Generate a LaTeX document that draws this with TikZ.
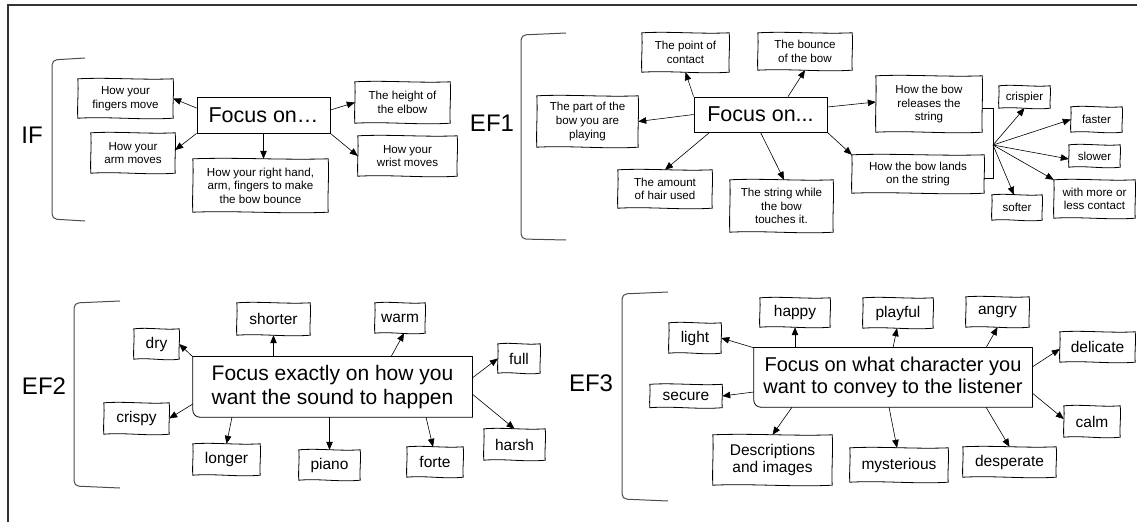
\documentclass[tikz,border=0pt]{standalone}
\usepackage{fontspec}
\setmainfont{Liberation Sans}
\usetikzlibrary{arrows.meta,calc}
\newcommand\fsz[2]{\fontsize{#1}{#2}\selectfont}
\newcommand\skb[1]{\draw[skl] (#1.north west)
 .. controls ($(#1.north west)!.33!(#1.north east)+(0,-1.6)$) and ($(#1.north west)!.67!(#1.north east)+(0,1.4)$) .. (#1.north east)
 .. controls ($(#1.north east)!.33!(#1.south east)+(1,0)$) and ($(#1.north east)!.67!(#1.south east)+(-0.8,0)$) .. (#1.south east)
 .. controls ($(#1.south east)!.33!(#1.south west)+(0,2)$) and ($(#1.south east)!.67!(#1.south west)+(0,-1.8)$) .. (#1.south west)
 .. controls ($(#1.south west)!.33!(#1.north west)+(-0.8,0)$) and ($(#1.south west)!.67!(#1.north west)+(1,0)$) .. (#1.north west) -- cycle;}
\tikzset{
 bx/.style={inner sep=0pt, align=center},
 sm/.style={bx, font=\fsz{11.6}{13.6}},
 md/.style={bx, font=\fsz{15.5}{17.5}},
 big/.style={bx, font=\fsz{21.5}{24}},
 arr/.style={-{Triangle[length=8pt,width=6.5pt]}, line width=0.6pt},
 skl/.style={line width=0.8pt},
 brk/.style={line width=1pt, black!70, rounded corners=5pt},
 lbl/.style={font=\fsz{24}{28}, inner sep=0pt},
 frm/.style={line width=0.8pt, line cap=round, line join=round},
}
\begin{document}
\begin{tikzpicture}[x=1pt,y=-1pt]
\useasboundingbox (0,0) rectangle (1137,522);
\draw[line width=1.5pt, black!80] (1137,5) -- (8,5) -- (8,522);

% brackets
\draw[brk] (85,58) -- (52,60) -- (52,219) -- (85,221);
\draw[brk] (566,33) -- (521,35) -- (521,239) -- (566,240);
\draw[brk] (120,301) -- (74,303) -- (74,486) -- (120,488);
\draw[brk] (668,292) -- (622,294) -- (622,499) -- (668,501);

% labels
\node[lbl] (lif) at (32,135) {IF};
\node[lbl] (lefa) at (492,123) {EF1};
\node[lbl] (lefb) at (44,386) {EF2};
\node[lbl] (lefc) at (591,383) {EF3};

% ---------------- IF
\node[big, draw, line width=0.8pt, minimum width=133pt, minimum height=36pt] (ifc) at (263.5,115) {Focus on…};
\node[sm, minimum width=95pt, minimum height=39pt] (iff) at (125.5,98.5) {How your\\fingers move};
\node[sm, minimum width=95pt, minimum height=41pt] (ife) at (402.5,102.5) {The height of\\the elbow};
\node[sm, minimum width=84pt, minimum height=40pt] (ifa) at (133,153) {How your\\arm moves};
\node[sm, minimum width=135pt, minimum height=53pt] (ifr) at (260.5,185.5) {How your right hand,\\arm, fingers to make\\the bow bounce};
\node[sm, minimum width=99pt, minimum height=40pt] (ifw) at (407.5,156) {How your\\wrist moves};
\draw[arr] ([yshift=7pt]ifc.west) -- (iff.east);
\draw[arr] ([yshift=5pt]ifc.east) -- (ife.west);
\draw[arr] (ifc.south west) -- ([yshift=3pt]ifa.east);
\draw[arr] (ifc.south) -- (ifc.south |- ifr.north);
\draw[arr] (ifc.south east) -- (ifw.west);

% ---------------- EF1
\node[big, draw, line width=0.8pt, minimum width=133pt, minimum height=35pt] (eac) at (760.5,114.5) {Focus on...};
\node[sm, minimum width=87pt, minimum height=39pt] (eapc) at (685.5,52.5) {The point of\\contact};
\node[sm, minimum width=94pt, minimum height=37pt] (eab) at (805,51.5) {The bounce\\of the bow};
\node[sm, minimum width=101pt, minimum height=51pt] (eap) at (587.5,121.5) {The part of the\\bow you are\\playing};
\node[sm, minimum width=106pt, minimum height=56pt] (earel) at (929,104) {How the bow\\releases the\\string};
\node[sm, minimum width=132pt, minimum height=38pt] (ealand) at (918,174) {How the bow lands\\on the string};
\node[sm, minimum width=94pt, minimum height=38pt] (eahair) at (665,189) {The amount\\of hair used};
\node[sm, minimum width=103pt, minimum height=52pt] (eastr) at (781.5,206) {The string while\\the bow\\touches it.};
\node[sm, minimum width=51pt, minimum height=22pt] (eacr) at (1024.5,97) {crispier};
\node[sm, minimum width=51pt, minimum height=25pt] (eafa) at (1096.5,119.5) {faster};
\node[sm, minimum width=51pt, minimum height=22pt] (easl) at (1094.5,156) {slower};
\node[sm, minimum width=50pt, minimum height=25pt] (easo) at (1017,207.5) {softer};
\node[sm, minimum width=81pt, minimum height=38pt] (eawm) at (1094.5,199) {with more or\\less contact};
\draw[arr] (eac.north west) -- (eapc.south);
\draw[arr] ([xshift=27.5pt]eac.north) -- (eab.south);
\draw[arr] (eac.west) -- (eap.east);
\draw[arr] ([yshift=7.5pt]eac.east) -- ([yshift=2pt]earel.west);
\draw[arr] ([xshift=16pt]eac.south west) -- (eahair.north);
\draw[arr] (eac.south) -- ([xshift=2.5pt]eastr.north);
\draw[arr] (eac.south east) -- (ealand.north west);
\coordinate (hub) at (993,145);
\draw[line width=0.6pt] ([yshift=-4pt]earel.east) -| (hub) |- ([yshift=-4pt]ealand.east);
\draw[arr] (hub) -- (eacr.south);
\draw[arr] (hub) -- (eafa.west);
\draw[arr] (hub) -- ([yshift=-3pt]easl.west);
\draw[arr] (hub) -- (eawm.north west);
\draw[arr] (hub) -- ([xshift=-3pt]easo.north);

% ---------------- EF2
\node[bx, font=\fsz{21}{23.5}, minimum width=279pt, minimum height=60pt] (ebc) at (332.5,387) {Focus exactly on how you\\want the sound to happen};
\draw[frm, rounded corners=7pt] (ebc.south east) -- (ebc.south west) -- (ebc.north west);
\draw[frm] (ebc.north west) -- (ebc.north east) -- (ebc.south east);
\node[md, minimum width=45pt, minimum height=30pt] (ebdry) at (156.5,344) {dry};
\node[md, minimum width=73pt, minimum height=32pt] (ebsh) at (273.5,319) {shorter};
\node[md, minimum width=50pt, minimum height=30pt] (ebwa) at (400,318) {warm};
\node[md, minimum width=42pt, minimum height=29pt] (ebfu) at (519,358.5) {full};
\node[md, minimum width=65pt, minimum height=31pt] (ebcr) at (136.5,418.5) {crispy};
\node[md, minimum width=67pt, minimum height=31pt] (eblo) at (226.5,459.5) {longer};
\node[md, minimum width=61pt, minimum height=30pt] (ebpi) at (329.5,465) {piano};
\node[md, minimum width=56pt, minimum height=30pt] (ebfo) at (435,462) {forte};
\node[md, minimum width=61pt, minimum height=31pt] (ebha) at (514.5,444.5) {harsh};
\draw[arr] (ebc.north west) -- (ebdry.east);
\draw[arr] (ebc.north -| ebsh.south) -- (ebsh.south);
\draw[arr] ([xshift=58.5pt]ebc.north) -- ([xshift=4pt]ebwa.south);
\draw[arr] ([yshift=9pt]ebc.east) -- (ebfu.west);
\draw[arr] ([yshift=-7pt]ebc.east) -- (ebha.north);
\draw[arr] ([xshift=93.5pt]ebc.south) -- ([xshift=-2pt]ebfo.north);
\draw[arr] (ebc.south -| ebpi.north) -- (ebpi.north);
\draw[arr] ([xshift=-100.5pt]ebc.south) -- (eblo.north);
\draw[arr] ([yshift=-17pt]ebc.west) -- (ebcr.east);

% ---------------- EF3
\node[bx, font=\fsz{20}{22}, minimum width=278pt, minimum height=59pt] (ecc) at (893,377.5) {Focus on what character you\\want to convey to the listener};
\draw[frm, rounded corners=7pt] (ecc.south east) -- (ecc.south west) -- (ecc.north west);
\draw[frm] (ecc.north west) -- (ecc.north east) -- (ecc.south east);
\node[md, minimum width=52pt, minimum height=30pt] (ecli) at (695,338) {light};
\node[md, minimum width=70pt, minimum height=29pt] (echa) at (795,312.5) {happy};
\node[md, minimum width=70pt, minimum height=30pt] (ecpl) at (898,313) {playful};
\node[md, minimum width=63pt, minimum height=30pt] (ecan) at (997.5,312) {angry};
\node[md, minimum width=75pt, minimum height=30pt] (ecde) at (1097.5,347) {delicate};
\node[md, minimum width=72pt, minimum height=23pt] (ecse) at (686,396) {secure};
\node[md, minimum width=56pt, minimum height=31pt] (ecca) at (1092,421.5) {calm};
\node[md, minimum width=119pt, minimum height=50pt] (ecds) at (772.5,460) {Descriptions\\and images};
\node[md, minimum width=98pt, minimum height=34pt] (ecmy) at (899,465) {mysterious};
\node[md, minimum width=93pt, minimum height=30pt] (ecdp) at (1009.5,462) {desperate};
\draw[arr] (ecc.north west) -- (ecli.east);
\draw[arr] (ecc.north -| echa.south) -- (echa.south);
\draw[arr] (ecc.north) -- ([xshift=-1pt]ecpl.south);
\draw[arr] ([xshift=93pt]ecc.north) -- (ecan.south);
\draw[arr] ([yshift=10.5pt]ecc.east) -- ([yshift=-2pt]ecde.west);
\draw[arr] ([yshift=-15.5pt]ecc.east) -- ([yshift=2.5pt]ecca.west);
\draw[arr] ([xshift=93pt]ecc.south) -- (ecdp.north);
\draw[arr] ([xshift=-4pt]ecc.south) -- ([xshift=-2pt]ecmy.north);
\draw[arr] ([xshift=-101pt]ecc.south) -- (ecds.north);
\draw[arr] ([yshift=-14.5pt]ecc.west) -- (ecse.east);

% sketchy outlines
\foreach \n in {iff,ife,ifa,ifr,ifw,eapc,eab,eap,earel,ealand,eahair,eastr,eacr,eafa,easl,easo,eawm,ebdry,ebsh,ebwa,ebfu,ebcr,eblo,ebpi,ebfo,ebha,ecli,echa,ecpl,ecan,ecde,ecse,ecca,ecds,ecmy,ecdp}{\skb{\n}}
\end{tikzpicture}
\end{document}
